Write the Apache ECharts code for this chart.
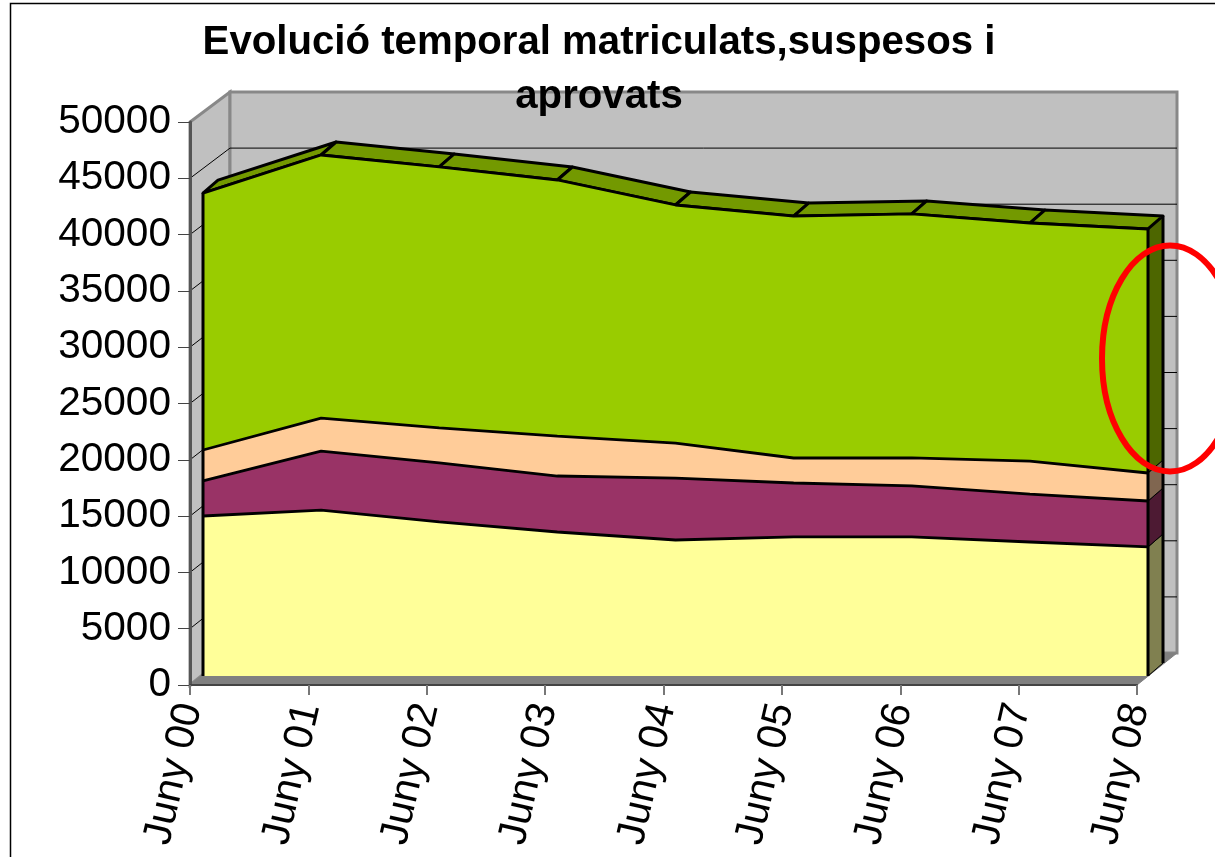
<!DOCTYPE html>
<html>
<head>
<meta charset="utf-8">
<style>html,body{margin:0;padding:0;background:#fff;overflow:hidden}#c{width:1215px;height:857px}</style>
<script src="https://cdn.jsdelivr.net/npm/echarts@6/dist/echarts.min.js"></script>
</head>
<body>
<div id="c"></div>
<script>
const categories = ['Juny 00','Juny 01','Juny 02','Juny 03','Juny 04','Juny 05','Juny 06','Juny 07','Juny 08'];
const yellowValues = [14210,14740,13680,12790,12080,12350,12350,11900,11460];
const purpleValues = [3110,5240,5240,4970,5500,4790,4530,4260,4080];
const peachValues  = [2750,2930,3110,3550,3110,2220,2490,2930,2490];
const greenValues  = [22820,23360,23180,22740,21140,21490,21670,21140,21670];
const valueTicks = [0,5000,10000,15000,20000,25000,30000,35000,40000,45000,50000];

const FONT = '"Liberation Sans", Arial, sans-serif';
const layers = [
  {name:'Matriculats A', values:yellowValues, front:'#FFFF99', side:'#808050'},
  {name:'Matriculats B', values:purpleValues, front:'#993366', side:'#4D1A33'},
  {name:'Matriculats C', values:peachValues,  front:'#FFCC99', side:'#806650'},
  {name:'Matriculats D', values:greenValues,  front:'#99CC00', side:'#4D6600', top:'#739900'}
];
// cumulative tops of each stacked layer
let run = categories.map(()=>0);
layers.forEach(l=>{ run = run.map((r,i)=>r+l.values[i]); l.cum = run; });

const DX = 15, DY = -13;           // depth of the area slab
const last = categories.length-1;
const back = (p)=>[p[0]+DX,p[1]+DY];

function renderWalls(params, api){
  const wall = (v)=>{ const p = api.coord([0,v]);
    return [p[0]+40, p[1]-30-2*(1-v/50000)]; };
  const wallR = (v)=>{ const p = api.coord([last,v]);
    return [p[0]+40, p[1]-30-2*(1-v/50000)]; };
  const f0 = api.coord([0,0]), f1 = api.coord([0,50000]), r0 = api.coord([last,0]);
  const ch = [];
  ch.push({type:'polygon',shape:{points:[f0,f1,wall(50000),wall(0)]},style:{fill:'#C0C0C0',stroke:'#888888',lineWidth:3}});
  ch.push({type:'polygon',shape:{points:[wall(0),wall(50000),wallR(50000),wallR(0)]},style:{fill:'#C0C0C0',stroke:'#888888',lineWidth:3}});
  ch.push({type:'polygon',shape:{points:[f0,wall(0),wallR(0),r0]},style:{fill:'#808080',stroke:'#808080',lineWidth:1}});
  valueTicks.filter(v=>v>0&&v<50000).forEach(v=>{
    const a=api.coord([0,v]), b=wall(v), c=wallR(v);
    ch.push({type:'polyline',shape:{points:[a,b,c]},style:{fill:null,stroke:'#000',lineWidth:1}});
  });
  return {type:'group',children:ch};
}

function renderDepth(params, api){
  const ch=[];
  // right-hand side faces
  let lower = 0;
  layers.forEach(l=>{
    const a=api.coord([last,lower]), b=api.coord([last,l.cum[last]]);
    ch.push({type:'polygon',shape:{points:[a,b,back(b),back(a)]},style:{fill:l.side,stroke:'#000',lineWidth:1}});
    lower=l.cum[last];
  });
  // top faces of the highest layer
  const t=layers[layers.length-1];
  for(let i=0;i<last;i++){
    const a=api.coord([i,t.cum[i]]), b=api.coord([i+1,t.cum[i+1]]);
    ch.push({type:'polygon',shape:{points:[a,b,back(b),back(a)]},style:{fill:t.top,stroke:'#000',lineWidth:3,lineJoin:'round'}});
  }
  const e=api.coord([last,t.cum[last]]), e0=api.coord([last,0]);
  ch.push({type:'line',shape:{x1:back(e)[0],y1:back(e)[1],x2:back(e0)[0],y2:back(e0)[1]},style:{stroke:'#000',lineWidth:3}});
  return {type:'group',children:ch};
}

function renderEdges(params, api){
  const t=layers[layers.length-1];
  const a=api.coord([0,0]), b=api.coord([0,t.cum[0]]);
  const c=api.coord([last,0]), d=api.coord([last,t.cum[last]]);
  return {type:'group',children:[
    {type:'line',shape:{x1:a[0],y1:a[1],x2:b[0],y2:b[1]},style:{stroke:'#000',lineWidth:3}},
    {type:'line',shape:{x1:c[0],y1:c[1],x2:d[0],y2:d[1]},style:{stroke:'#000',lineWidth:3}}
  ]};
}

const chart = echarts.init(document.getElementById('c'),null,{renderer:'canvas'});
const valueAxisBase = {type:'value',min:0,max:50000,interval:5000};
chart.setOption({
  animation:false,
  backgroundColor:'#fff',
  title:{text:'Evolució temporal matriculats,suspesos i\naprovats',left:594,top:11,textAlign:'center',z:20,
    textStyle:{fontFamily:FONT,fontWeight:'bold',fontSize:40.2,lineHeight:54,color:'#000'}},
  grid:[
    {left:190,top:122,width:947,height:563},
    {left:203,top:113,width:945,height:563}
  ],
  xAxis:[
    {gridIndex:0,type:'category',boundaryGap:false,data:categories,
     axisLine:{lineStyle:{color:'#444',width:2}},
     axisTick:{show:true,length:10,alignWithLabel:true,lineStyle:{color:'#777',width:2}},
     axisLabel:{interval:0,rotate:77,margin:19,fontFamily:FONT,fontSize:41,color:'#000'},z:9,splitLine:{show:false}},
    {gridIndex:1,type:'category',boundaryGap:false,data:categories,show:false}
  ],
  yAxis:[
    Object.assign({gridIndex:0},valueAxisBase,{
      axisLine:{show:true,lineStyle:{color:'#555',width:3}},
      axisTick:{show:true,length:12,lineStyle:{color:'#444',width:1}},
      axisLabel:{margin:19,padding:[13,0,0,0],fontFamily:FONT,fontSize:40.6,color:'#000',formatter:v=>String(v)},
      splitLine:{show:false},z:9}),
    Object.assign({gridIndex:1},valueAxisBase,{show:false,splitLine:{show:false}})
  ],
  series:[
    {type:'custom',name:'walls',xAxisIndex:0,yAxisIndex:0,data:[[0,0]],z:1,silent:true,renderItem:renderWalls},
    {type:'custom',name:'depth',xAxisIndex:1,yAxisIndex:1,data:[[0,0]],z:2,silent:true,renderItem:renderDepth}
  ].concat(layers.map(l=>({
    type:'line',name:l.name,xAxisIndex:1,yAxisIndex:1,stack:'total',data:l.values,z:3,
    symbol:'none',showSymbol:false,smooth:false,
    lineStyle:{color:'#000',width:2.8},
    areaStyle:{color:l.front,opacity:1},silent:true
  }))).concat([
    {type:'custom',name:'edges',xAxisIndex:1,yAxisIndex:1,data:[[0,0]],z:4,silent:true,renderItem:renderEdges}
  ]),
  graphic:[
    {type:'rect',z:50,silent:true,shape:{x:10.5,y:3.5,width:1400,height:1000},style:{fill:null,stroke:'#000',lineWidth:1.5}},
    {type:'ellipse',z:50,silent:true,shape:{cx:1170,cy:358.5,rx:68,ry:113},style:{fill:null,stroke:'#FF0000',lineWidth:6}}
  ]
});
</script>
</body>
</html>
